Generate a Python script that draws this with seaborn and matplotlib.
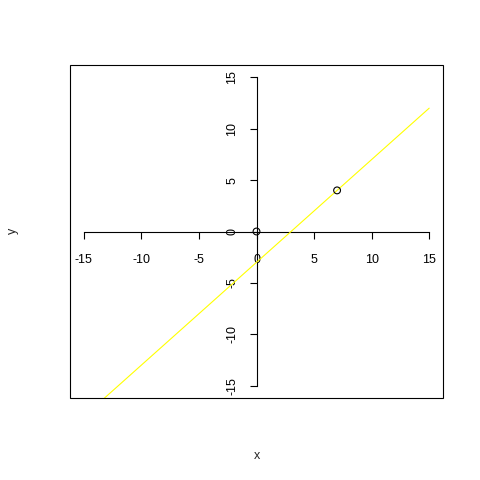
import matplotlib
matplotlib.use("Agg")
import matplotlib.pyplot as plt
import seaborn as sns
import pandas as pd
from matplotlib.patches import Rectangle

# data
point_x = [0, 7]
point_y = [0, 4]
line_x = [-15, 15]
line_y = [-18, 12]
ticks = [-15, -10, -5, 0, 5, 10, 15]

sns.set_style("white")
plt.rcParams['font.family'] = ['Liberation Sans', 'DejaVu Sans']

fig = plt.figure(figsize=(4.8, 4.8), dpi=100)
ax = fig.add_axes([70/480, 1 - 398/480, (443 - 70)/480, (398 - 65)/480])

pts = pd.DataFrame({"x": point_x, "y": point_y})
ln = pd.DataFrame({"x": line_x, "y": line_y})

sns.lineplot(data=ln, x="x", y="y", color="yellow", linewidth=0.8, ax=ax, zorder=3)
sns.scatterplot(data=pts, x="x", y="y", ax=ax, s=24, facecolor="none",
                edgecolor="black", linewidth=0.8, zorder=4)

ax.set_xlim(-16.2, 16.2)
ax.set_ylim(-16.2, 16.2)
ax.set_xticks(ticks)
ax.set_yticks(ticks)
ax.set_xticklabels([str(t) for t in ticks])
ax.set_yticklabels([str(t) for t in ticks])

for s in ["top", "right"]:
    ax.spines[s].set_visible(False)
ax.spines["left"].set_position(("data", 0))
ax.spines["bottom"].set_position(("data", 0))
ax.spines["left"].set_bounds(-15, 15)
ax.spines["bottom"].set_bounds(-15, 15)
for s in ["left", "bottom"]:
    ax.spines[s].set_color("black")
    ax.spines[s].set_linewidth(0.8)

ax.tick_params(axis="both", direction="out", length=5, width=0.8, colors="black",
               labelsize=9, bottom=True, left=True)
ax.tick_params(axis="x", pad=11)
ax.tick_params(axis="y", pad=8)
plt.setp(ax.get_yticklabels(), rotation=90, va="center")

ax.add_patch(Rectangle((0, 0), 1, 1, transform=ax.transAxes, fill=False,
                       edgecolor="black", linewidth=0.8, clip_on=False, zorder=5))

ax.set_xlabel("")
ax.set_ylabel("")
fig.text(257/480, 1 - 456/480, "x", ha="center", va="center", fontsize=9)
fig.text(13/480, 1 - 231/480, "y", ha="center", va="center", fontsize=9, rotation=90)

fig.savefig("out.png", dpi=100, facecolor="white")
